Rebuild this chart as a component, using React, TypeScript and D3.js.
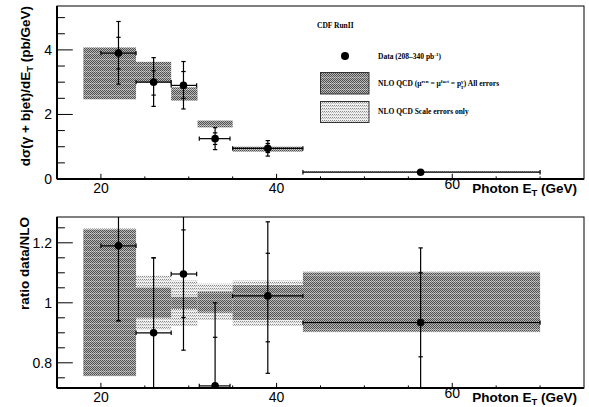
import React from "react";
import * as d3 from "d3";

// ---------- data ----------
const binLo = [18, 24, 28, 31, 35, 43];
const binHi = [24, 28, 31, 35, 43, 70];
const ptX = [22, 26, 29.4, 33, 39, 56.4];
const ptXLo = [20, 24, 28, 31.2, 35, 43];
const ptXHi = [24, 28, 30.9, 34.7, 43, 70];

const xsecVal = [3.9, 3.0, 2.9, 1.25, 0.95, 0.21];
const xsecStatLo = [3.41, 2.6, 2.5, 1.07, 0.82, 0.19];
const xsecStatHi = [4.39, 3.35, 3.33, 1.43, 1.1, 0.23];
const xsecTotLo = [2.94, 2.25, 2.17, 0.91, 0.71, 0.17];
const xsecTotHi = [4.88, 3.76, 3.64, 1.59, 1.19, 0.25];
const nloAllLo = [2.47, 2.99, 2.43, 1.6, 0.85, 0.19];
const nloAllHi = [4.08, 3.63, 2.84, 1.81, 1.0, 0.24];

const ratioVal = [1.19, 0.9, 1.096, 0.723, 1.023, 0.934];
const ratioStatLo = [0.94, 0.65, 0.951, 0.6, 0.87, 0.82];
const ratioStatHi = [1.4, 1.15, 1.243, 0.885, 1.165, 1.1];
const ratioTotLo = [0.94, 0.6, 0.842, 0.55, 0.765, 0.65];
const ratioTotHi = [1.45, 1.15, 1.4, 1.0, 1.27, 1.183];
const ratioAllLo = [0.757, 0.95, 0.98, 0.967, 0.943, 0.904];
const ratioAllHi = [1.244, 1.051, 1.02, 1.037, 1.059, 1.101];
const ratioScaleLo = [0.755, 0.909, 0.923, 0.943, 0.923, 0.9];
const ratioScaleHi = [1.248, 1.091, 1.075, 1.064, 1.075, 1.105];

const xMajorTicks = [20, 40, 60];
const xMinorTicks = [20, 25, 30, 35, 40, 45, 50, 55, 60, 65, 70];
const topMajorTicks = [0, 2, 4];
const topMinorTicks = [0.5, 1, 1.5, 2.5, 3, 3.5, 4.5, 5];
const botMajorTicks = [0.8, 1, 1.2];
const botMinorTicks = [0.75, 0.85, 0.9, 0.95, 1.05, 1.1, 1.15, 1.25];

// ---------- layout ----------
const W = 589;
const H = 407;
const L = 57;
const R = 584;
const xDomain = [15, 75];

const TICKFONT = "'Liberation Sans', Arial, Helvetica, sans-serif";
const SERIF = "'Liberation Serif', 'Times New Roman', serif";

type PanelProps = {
  top: number;
  bottom: number;
  yDomain: [number, number];
  majorY: number[];
  minorY: number[];
  yFmt: (v: number) => string;
  id: string;
  children: (x: d3.ScaleLinear<number, number>, y: d3.ScaleLinear<number, number>) => React.ReactNode;
};

function Panel({ top, bottom, yDomain, majorY, minorY, yFmt, id, children }: PanelProps) {
  const x = d3.scaleLinear().domain(xDomain).range([L, R]);
  const y = d3.scaleLinear().domain(yDomain).range([bottom, top]);
  const ph = bottom - top;
  const pw = R - L;
  const yMajLen = 0.03 * pw;
  const xMajLen = 0.03 * ph;
  return (
    <g>
      <clipPath id={id}>
        <rect x={L} y={top} width={pw} height={ph} />
      </clipPath>
      <g clipPath={`url(#${id})`}>{children(x, y)}</g>
      <rect x={L} y={top} width={pw} height={ph} fill="none" stroke="#000" strokeWidth={1} />
      <line x1={L} x2={L} y1={top} y2={bottom} stroke="#000" strokeWidth={2} />
      <line x1={L} x2={R} y1={bottom} y2={bottom} stroke="#000" strokeWidth={2} />
      {xMinorTicks.map((t) => (
        <line key={"xm" + t} x1={x(t)} x2={x(t)} y1={bottom}
          y2={bottom - (xMajorTicks.includes(t) ? xMajLen : xMajLen / 2)} stroke="#000" strokeWidth={1} />
      ))}
      {majorY.map((t) => (
        <line key={"ym" + t} x1={L} x2={L + yMajLen} y1={y(t)} y2={y(t)} stroke="#000" strokeWidth={1} />
      ))}
      {minorY.map((t) => (
        <line key={"yn" + t} x1={L} x2={L + yMajLen / 2} y1={y(t)} y2={y(t)} stroke="#000" strokeWidth={1} />
      ))}
      {majorY.map((t) => (
        <text key={"yl" + t} x={52} y={y(t) + 5} textAnchor="end" fontFamily={TICKFONT} fontSize={14}>
          {yFmt(t)}
        </text>
      ))}
      {xMajorTicks.map((t, i) => (
        <text key={"xl" + t} x={x(t)} y={bottom + (i === xMajorTicks.length - 1 ? 10 : 14)}
          textAnchor="middle" fontFamily={TICKFONT} fontSize={14}>
          {t}
        </text>
      ))}
      <text x={577} y={bottom + 14} textAnchor="end" fontFamily={TICKFONT} fontSize={13.5} fontWeight="bold">
        Photon E<tspan fontSize={9.5} dy={3}>T</tspan>
        <tspan dy={-3}> (GeV)</tspan>
      </text>
    </g>
  );
}

function ErrPoint({ x, y, i, val, statLo, statHi, totLo, totHi }: any) {
  const cx = x(ptX[i]);
  const cy = y(val[i]);
  const cap = 2.2;
  return (
    <g stroke="#000" strokeWidth={1.2}>
      <line x1={cx} x2={cx} y1={y(totLo[i])} y2={y(totHi[i])} />
      <line x1={cx - cap} x2={cx + cap} y1={y(totLo[i])} y2={y(totLo[i])} />
      <line x1={cx - cap} x2={cx + cap} y1={y(totHi[i])} y2={y(totHi[i])} />
      <line x1={cx - cap} x2={cx + cap} y1={y(statLo[i])} y2={y(statLo[i])} />
      <line x1={cx - cap} x2={cx + cap} y1={y(statHi[i])} y2={y(statHi[i])} />
      <line x1={x(ptXLo[i])} x2={x(ptXHi[i])} y1={cy} y2={cy} />
      <line x1={x(ptXLo[i])} x2={x(ptXLo[i])} y1={cy - cap} y2={cy + cap} />
      <line x1={x(ptXHi[i])} x2={x(ptXHi[i])} y1={cy - cap} y2={cy + cap} />
      <circle cx={cx} cy={cy} r={3.8} fill="#000" stroke="none" />
    </g>
  );
}

export default function App() {
  const idx = d3.range(binLo.length);
  return (
    <svg width={W} height={H} style={{ display: "block", position: "absolute", left: 0, top: 0 }}>
      <defs>
        <pattern id="darkPat" width={2} height={6} patternUnits="userSpaceOnUse">
          <rect width={2} height={6} fill="#b6b6b6" />
          {[0, 1, 2, 3, 4].map((r) => (
            <rect key={r} x={r % 2} y={r} width={1} height={1} fill="#505050" />
          ))}
          <rect x={0} y={5} width={2} height={1} fill="#cfcfcf" />
          <rect x={1} y={5} width={1} height={1} fill="#7a7a7a" />
        </pattern>
        <pattern id="lightPat" width={2} height={3} patternUnits="userSpaceOnUse">
          <rect width={2} height={3} fill="#f0f0f0" />
          <rect x={0} y={0} width={1} height={1} fill="#8a8a8a" />
          <rect x={1} y={1} width={1} height={1} fill="#b8b8b8" />
        </pattern>
      </defs>
      <rect width={W} height={H} fill="#fff" />

      {/* top panel */}
      <Panel top={6} bottom={179} yDomain={[0, 5.36]} majorY={topMajorTicks} minorY={topMinorTicks}
        yFmt={(v) => String(v)} id="clipTop">
        {(x, y) => (
          <g>
            {idx.map((i) => (
              <rect key={"nb" + i} x={x(binLo[i])} width={x(binHi[i]) - x(binLo[i])}
                y={y(nloAllHi[i])} height={Math.max(1.5, y(nloAllLo[i]) - y(nloAllHi[i]))}
                fill={i === 5 ? "url(#lightPat)" : "url(#darkPat)"} />
            ))}
            {idx.map((i) => (
              <ErrPoint key={"tp" + i} x={x} y={y} i={i} val={xsecVal} statLo={xsecStatLo}
                statHi={xsecStatHi} totLo={xsecTotLo} totHi={xsecTotHi} />
            ))}
          </g>
        )}
      </Panel>

      {/* legend */}
      <g fontFamily={SERIF} fontWeight="bold" fontSize={7.5}>
        <text x={317} y={27.5}>CDF RunII</text>
        <circle cx={345} cy={56} r={4} fill="#000" />
        <text x={378} y={58.5}>
          Data (208–340 pb<tspan dy={-3} fontSize={5}>-1</tspan><tspan dy={3}>)</tspan>
        </text>
        <rect x={320.5} y={72.5} width={48.5} height={21.5} fill="url(#darkPat)" stroke="#333" strokeWidth={1} />
        <text x={378} y={86}>
          NLO QCD (μ<tspan dy={-3} fontSize={5}>ren</tspan>
          <tspan dy={3}> = μ</tspan><tspan dy={-3} fontSize={5}>fact</tspan>
          <tspan dy={3}> = p</tspan><tspan dy={-3} fontSize={5}>γ</tspan>
          <tspan dx={-3} dy={5.5} fontSize={5}>T</tspan>
          <tspan dy={-2.5}>) All errors</tspan>
        </text>
        <rect x={320.5} y={101.5} width={48.5} height={21} fill="url(#lightPat)" stroke="#333" strokeWidth={1} />
        <text x={378} y={114}>NLO QCD Scale errors only</text>
      </g>

      <text transform="translate(30,6) rotate(-90)" textAnchor="end" fontFamily={TICKFONT}
        fontSize={13.5} fontWeight="bold">
        dσ(γ + bjet)/dE<tspan fontSize={9.5} dy={3}>T</tspan><tspan dy={-3}> (pb/GeV)</tspan>
      </text>

      {/* bottom panel */}
      <Panel top={217} bottom={388} yDomain={[0.716, 1.286]} majorY={botMajorTicks} minorY={botMinorTicks}
        yFmt={(v) => String(v)} id="clipBot">
        {(x, y) => (
          <g>
            {idx.map((i) => (
              <rect key={"sb" + i} x={x(binLo[i])} width={x(binHi[i]) - x(binLo[i])}
                y={y(ratioScaleHi[i])} height={y(ratioScaleLo[i]) - y(ratioScaleHi[i])}
                fill="url(#lightPat)" />
            ))}
            {idx.map((i) => (
              <rect key={"ab" + i} x={x(binLo[i])} width={x(binHi[i]) - x(binLo[i])}
                y={y(ratioAllHi[i])} height={y(ratioAllLo[i]) - y(ratioAllHi[i])}
                fill="url(#darkPat)" />
            ))}
            {idx.map((i) => (
              <ErrPoint key={"bp" + i} x={x} y={y} i={i} val={ratioVal} statLo={ratioStatLo}
                statHi={ratioStatHi} totLo={ratioTotLo} totHi={ratioTotHi} />
            ))}
          </g>
        )}
      </Panel>

      <text transform="translate(29,217) rotate(-90)" textAnchor="end" fontFamily={TICKFONT}
        fontSize={13.5} fontWeight="bold">
        ratio data/NLO
      </text>
    </svg>
  );
}
